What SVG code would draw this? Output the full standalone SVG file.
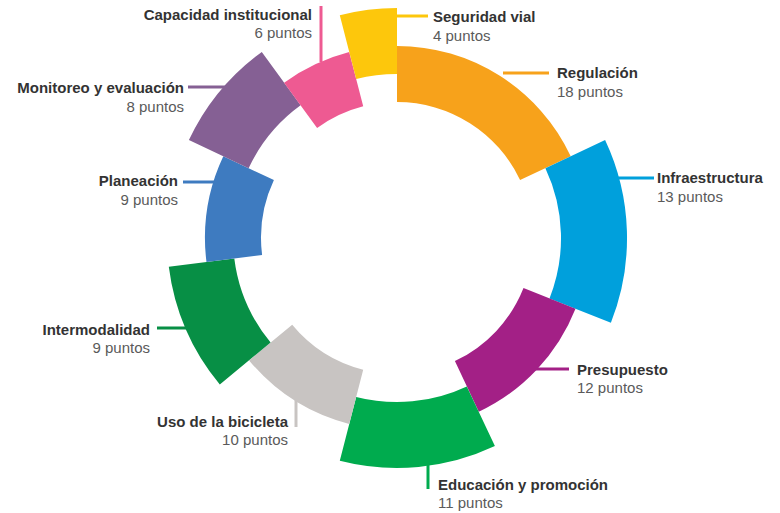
<svg xmlns="http://www.w3.org/2000/svg" width="780" height="513" viewBox="0 0 780 513">
<style>
.t{font-family:"Liberation Sans",Arial,sans-serif;font-size:15px;font-weight:bold;fill:#333333}
.p{font-family:"Liberation Sans",Arial,sans-serif;font-size:15px;fill:#5a5a5a}
.r{text-anchor:end}
.ln{stroke-width:3;fill:none}
</style>
<rect width="780" height="513" fill="#ffffff"/>
<g id="connectors">
<line class="ln" x1="321" y1="6" x2="321" y2="62" stroke="#EE5A92"/>
<line class="ln" x1="397" y1="16" x2="428" y2="16" stroke="#FDC70C"/>
<line class="ln" x1="503" y1="73" x2="549" y2="73" stroke="#F7A21B"/>
<line class="ln" x1="608" y1="178" x2="654" y2="178" stroke="#00A0DC"/>
<line class="ln" x1="530" y1="369" x2="569" y2="369" stroke="#A32086"/>
<line class="ln" x1="428" y1="456" x2="428" y2="489" stroke="#00AB4E"/>
<line class="ln" x1="296" y1="390" x2="296" y2="427" stroke="#C8C4C2"/>
<line class="ln" x1="157" y1="328" x2="190" y2="328" stroke="#078F45"/>
<line class="ln" x1="183" y1="182" x2="215" y2="182" stroke="#3E7BC0"/>
<line class="ln" x1="188" y1="87" x2="228" y2="87" stroke="#856094"/>
</g>
<g id="regulacion"><path d="M397,46 A192,192 0 0 1 570.7,156.2 L520.1,180.1 A136,136 0 0 0 397,102 Z" fill="#F7A21B"/></g>
<g id="infraestructura"><path d="M605.1,140.1 A230,230 0 0 1 610.9,322.7 L549.5,298.4 A164,164 0 0 0 545.4,168.2 Z" fill="#00A0DC"/></g>
<g id="presupuesto"><path d="M575.5,308.7 A192,192 0 0 1 478.8,411.7 L454.9,361.1 A136,136 0 0 0 523.5,288.1 Z" fill="#A32086"/></g>
<g id="educacion"><path d="M494.9,446.1 A230,230 0 0 1 339.8,460.8 L356.2,396.9 A164,164 0 0 0 466.8,386.4 Z" fill="#00AB4E"/></g>
<g id="uso"><path d="M349.2,424 A192,192 0 0 1 249.1,360.4 L292.2,324.7 A136,136 0 0 0 363.2,369.7 Z" fill="#C8C4C2"/></g>
<g id="intermodalidad"><path d="M219.8,384.6 A230,230 0 0 1 168.8,266.8 L234.3,258.5 A164,164 0 0 0 270.6,342.5 Z" fill="#078F45"/></g>
<g id="planeacion"><path d="M206.5,262.1 A192,192 0 0 1 223.3,156.2 L273.9,180.1 A136,136 0 0 0 262.1,255 Z" fill="#3E7BC0"/></g>
<g id="monitoreo"><path d="M188.9,140.1 A230,230 0 0 1 261.8,51.9 L300.6,105.3 A164,164 0 0 0 248.6,168.2 Z" fill="#856094"/></g>
<g id="capacidad"><path d="M284.1,82.7 A192,192 0 0 1 349.2,52 L363.2,106.3 A136,136 0 0 0 317.1,128 Z" fill="#EE5A92"/></g>
<g id="seguridad"><path d="M339.8,15.2 A230,230 0 0 1 397,8 L397,74 A164,164 0 0 0 356.2,79.1 Z" fill="#FDC70C"/></g>
<g id="labels">
<text class="t r" x="312" y="20">Capacidad institucional</text>
<text class="p r" x="312" y="38">6 puntos</text>
<text class="t" x="433" y="22">Seguridad vial</text>
<text class="p" x="433" y="41">4 puntos</text>
<text class="t" x="557" y="78">Regulación</text>
<text class="p" x="557" y="97">18 puntos</text>
<text class="t" x="657" y="183">Infraestructura</text>
<text class="p" x="657" y="202">13 puntos</text>
<text class="t" x="577" y="375">Presupuesto</text>
<text class="p" x="577" y="393">12 puntos</text>
<text class="t" x="438" y="490">Educación y promoción</text>
<text class="p" x="438" y="508">11 puntos</text>
<text class="t r" x="288" y="427">Uso de la bicicleta</text>
<text class="p r" x="288" y="445">10 puntos</text>
<text class="t r" x="150" y="335">Intermodalidad</text>
<text class="p r" x="150" y="353">9 puntos</text>
<text class="t r" x="178" y="186">Planeación</text>
<text class="p r" x="178" y="205">9 puntos</text>
<text class="t r" x="184" y="93">Monitoreo y evaluación</text>
<text class="p r" x="184" y="112">8 puntos</text>
</g>
</svg>
